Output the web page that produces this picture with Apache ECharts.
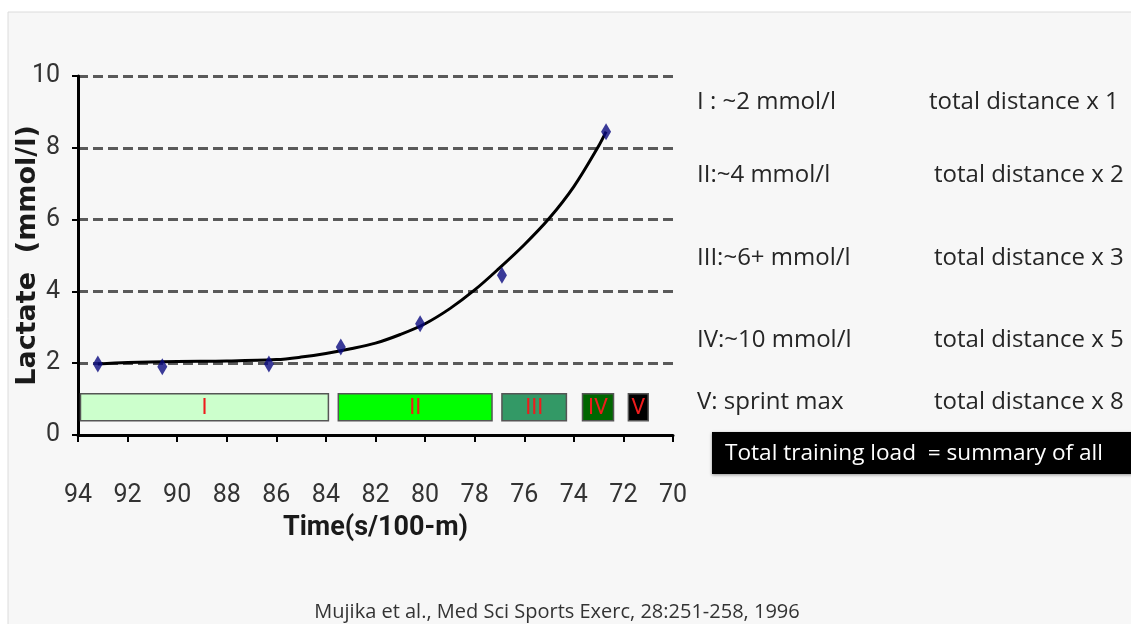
<!DOCTYPE html>
<html>
<head>
<meta charset="utf-8">
<script src="https://cdn.jsdelivr.net/npm/echarts@6/dist/echarts.min.js"></script>
<style>
html,body{margin:0;padding:0;background:#ffffff;}
#chart{width:1131px;height:624px;}
</style>
</head>
<body>
<div id="chart"></div>
<script>
// ---- data ----
var xTicks = [94, 92, 90, 88, 86, 84, 82, 80, 78, 76, 74, 72, 70];
var yTicks = [0, 2, 4, 6, 8, 10];
// measured points (time s/100-m, lactate mmol/l)
var pointTime = [93.2, 90.6, 86.3, 83.4, 80.2, 76.9, 72.7];
var pointLactate = [1.98, 1.9, 1.98, 2.45, 3.1, 4.45, 8.45];
// fitted trend curve
var curveTime = [93.2, 92, 90, 88, 86, 85, 84, 83, 82, 81, 80, 79, 78, 77, 76, 75, 74, 73, 72.7];
var curveLactate = [1.98, 2.02, 2.05, 2.06, 2.1, 2.17, 2.27, 2.4, 2.56, 2.8, 3.1, 3.52, 4.04, 4.65, 5.3, 6.03, 6.92, 8.05, 8.45];
// training zones
var zoneNames = ['I', 'II', 'III', 'IV', 'V'];
var zoneStart = [93.9, 83.5, 76.9, 73.65, 71.8];
var zoneEnd = [83.9, 77.3, 74.3, 72.4, 71.0];
var zoneLow = 0.4;
var zoneHigh = 1.15;
// right-hand text
var zoneDesc = ['I : ~2 mmol/l', 'II:~4 mmol/l', 'III:~6+ mmol/l', 'IV:~10 mmol/l', 'V: sprint max'];
var zoneLoad = ['total distance x 1', 'total distance x 2', 'total distance x 3', 'total distance x 5', 'total distance x 8'];
var summaryText = 'Total training load  = summary of all';
var citation = 'Mujika et al., Med Sci Sports Exerc, 28:251-258, 1996';

// ---- styles ----
var zoneColors = ['#ccffcc', '#00ff00', '#339966', '#006600', '#000000'];
var descY = [102, 175, 258, 340, 402];
var loadX = [929, 934, 934, 934, 934];
var narrow = 'Roboto, sans-serif';
var textFont = '"Open Sans", "Lato", sans-serif';

var pts = pointTime.map(function (t, i) { return [t, pointLactate[i]]; });
var curve = curveTime.map(function (t, i) { return [t, curveLactate[i]]; });
var zones = zoneNames.map(function (n, i) { return [zoneStart[i], zoneEnd[i], zoneLow, zoneHigh, n]; });

var graphics = [
  { type: 'rect', z: -100, shape: { x: 8, y: 12, width: 1130, height: 620 },
    style: { fill: '#f7f7f7', stroke: '#dcdcdc', lineWidth: 1 } }
];
zoneDesc.forEach(function (d, i) {
  graphics.push({ type: 'text', x: 697, y: descY[i],
    style: { text: d, font: '24px ' + textFont, fill: '#262626', textVerticalAlign: 'middle' } });
  graphics.push({ type: 'text', x: loadX[i], y: descY[i],
    style: { text: zoneLoad[i], font: '24px ' + textFont, fill: '#262626', textVerticalAlign: 'middle' } });
});
graphics.push({ type: 'rect', shape: { x: 712, y: 432, width: 430, height: 42 },
  style: { fill: '#000000', shadowBlur: 3, shadowColor: 'rgba(0,0,0,0.4)', shadowOffsetY: 1 } });
graphics.push({ type: 'text', x: 725, y: 454,
  style: { text: summaryText, font: '22.6px ' + textFont, fill: '#ffffff', textVerticalAlign: 'middle' } });
graphics.push({ type: 'text', x: 557, y: 612,
  style: { text: citation, font: '20px ' + textFont, fill: '#333333', textAlign: 'center', textVerticalAlign: 'middle' } });

var chart = echarts.init(document.getElementById('chart'));
chart.setOption({
  animation: false,
  backgroundColor: '#ffffff',
  grid: { left: 78, right: 458, top: 76, bottom: 189, containLabel: false, outerBoundsMode: 'none' },
  graphic: { elements: graphics },
  xAxis: {
    type: 'value', inverse: true, min: 70, max: 94, interval: 2,
    name: 'Time(s/100-m)', nameLocation: 'middle', nameGap: 80, nameMoveOverlap: false,
    nameTextStyle: { fontFamily: narrow, fontSize: 27, fontWeight: 'bold', color: '#1a1a1a' },
    axisLine: { lineStyle: { color: '#000', width: 3 } },
    axisTick: { show: true, length: 7, lineStyle: { color: '#000', width: 2 } },
    axisLabel: { fontFamily: narrow, fontSize: 25, color: '#333', margin: 48,
      formatter: function (v) { return xTicks.indexOf(v) >= 0 ? String(v) : ''; } },
    splitLine: { show: false }
  },
  yAxis: {
    type: 'value', min: 0, max: 10, interval: 2,
    name: 'Lactate  (mmol/l)', nameLocation: 'middle', nameGap: 37, nameRotate: 90, nameMoveOverlap: false,
    nameTextStyle: { fontFamily: '"DejaVu Sans", sans-serif', fontSize: 27, fontWeight: 'bold', color: '#1a1a1a' },
    axisLine: { show: true, lineStyle: { color: '#000', width: 3 } },
    axisTick: { show: true, length: 6, lineStyle: { color: '#000', width: 2 } },
    axisLabel: { fontFamily: narrow, fontSize: 25, color: '#333', margin: 18,
      formatter: function (v) { return yTicks.indexOf(v) >= 0 ? String(v) : ''; } },
    splitLine: { show: true, lineStyle: { color: '#5a5a5a', width: 3, type: [10, 5] } }
  },
  series: [
    {
      type: 'custom', z: 3,
      renderItem: function (params, api) {
        var p1 = api.coord([api.value(0), api.value(3)]);
        var p2 = api.coord([api.value(1), api.value(2)]);
        var i = params.dataIndex;
        return {
          type: 'group',
          children: [
            { type: 'rect', shape: { x: p1[0], y: p1[1], width: p2[0] - p1[0], height: p2[1] - p1[1] },
              style: { fill: zoneColors[i], stroke: '#555', lineWidth: 1.5 } },
            { type: 'text', x: (p1[0] + p2[0]) / 2, y: (p1[1] + p2[1]) / 2 + 1,
              style: { text: zoneNames[i], fill: '#ee1c1c', font: '22px ' + narrow, textAlign: 'center', textVerticalAlign: 'middle' } }
          ]
        };
      },
      encode: { x: [0, 1], y: [2, 3] },
      data: zones
    },
    {
      type: 'line', data: curve, smooth: 0.35, showSymbol: false, z: 4,
      lineStyle: { color: '#000', width: 3 }
    },
    {
      type: 'scatter', data: pts, symbol: 'diamond', symbolSize: [10, 17], z: 5,
      itemStyle: { color: '#0a0a80' }
    }
  ]
});
</script>
</body>
</html>
